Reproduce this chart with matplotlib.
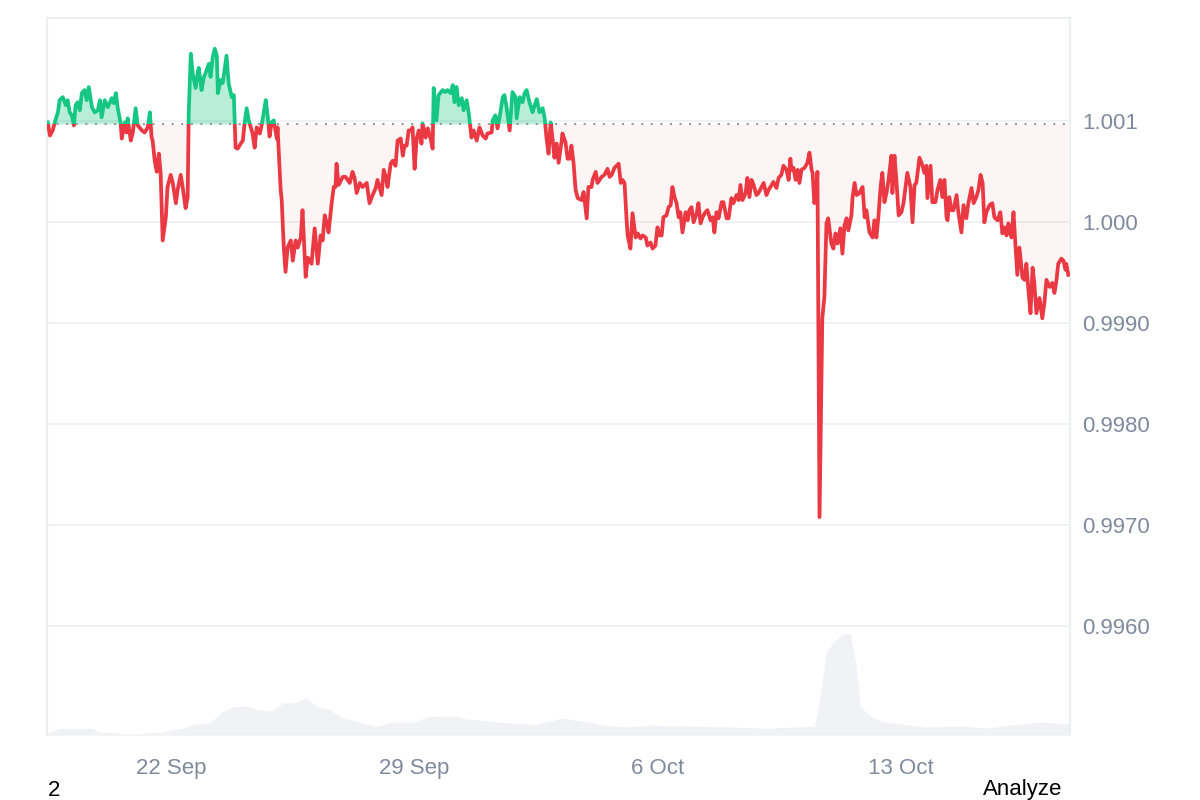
import pandas as pd
import matplotlib
matplotlib.use("Agg")
import matplotlib.pyplot as plt
import matplotlib.dates as mdates
from matplotlib.patches import Rectangle
from matplotlib.ticker import FuncFormatter

plt.rcParams["font.family"] = ["Liberation Sans", "DejaVu Sans"]

# days after 22 Sep 00:00
price_days = [
    -3.57, -3.51, -3.43, -3.37, -3.28, -3.23, -3.14, -3.05, -3.00, -2.94, -2.88, -2.82, -2.77, -2.71,
    -2.65, -2.59, -2.51, -2.45, -2.39, -2.30, -2.22, -2.13, -2.07, -2.02, -1.93, -1.84, -1.73, -1.67,
    -1.61, -1.56, -1.47, -1.44, -1.35, -1.30, -1.27, -1.18, -1.12, -1.04, -0.98, -0.86, -0.78, -0.69,
    -0.63, -0.58, -0.55, -0.49, -0.43, -0.37, -0.32, -0.26, -0.17, -0.12, -0.03, 0.03, 0.12, 0.17,
    0.26, 0.32, 0.40, 0.46, 0.49, 0.55, 0.61, 0.69, 0.75, 0.78, 0.86, 0.92, 1.01, 1.07, 1.12, 1.18,
    1.24, 1.30, 1.33, 1.41, 1.47, 1.58, 1.64, 1.73, 1.79, 1.84, 1.90, 1.99, 2.05, 2.10, 2.16, 2.22,
    2.28, 2.33, 2.39, 2.45, 2.54, 2.59, 2.65, 2.71, 2.77, 2.82, 2.88, 2.94, 3.03, 3.05, 3.14, 3.17,
    3.23, 3.28, 3.34, 3.43, 3.49, 3.57, 3.63, 3.72, 3.77, 3.86, 3.92, 4.03, 4.12, 4.21, 4.29, 4.35,
    4.41, 4.47, 4.52, 4.61, 4.67, 4.72, 4.75, 4.81, 4.93, 5.01, 5.13, 5.21, 5.27, 5.33, 5.42, 5.50,
    5.62, 5.70, 5.79, 5.88, 5.93, 6.05, 6.11, 6.17, 6.22, 6.31, 6.37, 6.45, 6.51, 6.60, 6.66, 6.71,
    6.77, 6.83, 6.91, 6.94, 7.00, 7.06, 7.12, 7.20, 7.23, 7.32, 7.38, 7.46, 7.52, 7.55, 7.63, 7.69,
    7.81, 7.89, 7.95, 8.04, 8.10, 8.15, 8.21, 8.27, 8.36, 8.41, 8.50, 8.56, 8.64, 8.70, 8.79, 8.87,
    8.96, 9.05, 9.10, 9.22, 9.25, 9.33, 9.39, 9.45, 9.54, 9.59, 9.65, 9.74, 9.80, 9.82, 9.91, 9.94,
    10.03, 10.11, 10.17, 10.23, 10.31, 10.40, 10.46, 10.52, 10.60, 10.69, 10.75, 10.80, 10.86, 10.92,
    10.98, 11.03, 11.09, 11.15, 11.24, 11.26, 11.35, 11.41, 11.47, 11.52, 11.58, 11.64, 11.70, 11.81,
    11.87, 11.96, 12.01, 12.10, 12.13, 12.22, 12.27, 12.39, 12.47, 12.56, 12.62, 12.68, 12.76, 12.88,
    12.94, 12.99, 13.05, 13.11, 13.14, 13.22, 13.28, 13.37, 13.43, 13.51, 13.57, 13.66, 13.71, 13.80,
    13.86, 13.94, 14.00, 14.06, 14.12, 14.17, 14.26, 14.32, 14.38, 14.43, 14.49, 14.55, 14.61, 14.66,
    14.72, 14.81, 14.87, 14.92, 14.98, 15.04, 15.13, 15.18, 15.24, 15.30, 15.38, 15.44, 15.53, 15.59,
    15.64, 15.70, 15.76, 15.85, 15.90, 15.99, 16.05, 16.13, 16.19, 16.28, 16.34, 16.39, 16.45, 16.54,
    16.59, 16.65, 16.71, 16.77, 16.85, 16.91, 17.00, 17.06, 17.14, 17.20, 17.29, 17.34, 17.43, 17.49,
    17.57, 17.63, 17.72, 17.78, 17.83, 17.86, 17.92, 17.98, 18.04, 18.09, 18.15, 18.24, 18.32, 18.38,
    18.44, 18.47, 18.52, 18.58, 18.61, 18.67, 18.75, 18.81, 18.87, 18.92, 19.01, 19.07, 19.13, 19.19,
    19.27, 19.33, 19.39, 19.45, 19.50, 19.59, 19.62, 19.68, 19.74, 19.82, 19.91, 19.97, 20.02, 20.11,
    20.20, 20.25, 20.31, 20.37, 20.43, 20.48, 20.54, 20.60, 20.66, 20.74, 20.77, 20.83, 20.89, 20.95,
    21.03, 21.09, 21.15, 21.20, 21.29, 21.35, 21.41, 21.46, 21.55, 21.64, 21.69, 21.75, 21.78, 21.87,
    21.92, 22.01, 22.07, 22.15, 22.21, 22.27, 22.33, 22.36, 22.41, 22.47, 22.53, 22.62, 22.67, 22.76,
    22.82, 22.90, 22.96, 23.05, 23.11, 23.19, 23.25, 23.31, 23.37, 23.42, 23.48, 23.57, 23.65, 23.71,
    23.80, 23.88, 23.94, 24.00, 24.06, 24.11, 24.20, 24.26, 24.32, 24.37, 24.43, 24.52, 24.58, 24.63,
    24.69, 24.75, 24.81, 24.86, 24.92, 25.01, 25.09, 25.15, 25.21, 25.30, 25.38, 25.44, 25.50, 25.55,
    25.64, 25.70, 25.76, 25.78, 25.84,
]
prices = [
    1.00099, 1.00086, 1.00091, 1.00099, 1.00109, 1.00121, 1.00124, 1.00116, 1.00121, 1.00109, 1.00106, 1.00096, 1.00116, 1.00119,
    1.00111, 1.00128, 1.00131, 1.00121, 1.00134, 1.00114, 1.00109, 1.00111, 1.00121, 1.00104, 1.00121, 1.00114, 1.00123, 1.00118,
    1.00128, 1.00114, 1.00098, 1.00083, 1.00099, 1.00089, 1.00103, 1.00081, 1.00089, 1.00113, 1.00096, 1.00091, 1.00089, 1.00094,
    1.00109, 1.00084, 1.00081, 1.00061, 1.00050, 1.00068, 1.00049, 0.99982, 1.00005, 1.00035, 1.00047, 1.00039, 1.00019, 1.00032,
    1.00047, 1.00034, 1.00014, 1.00025, 1.00108, 1.00167, 1.00146, 1.00133, 1.00149, 1.00153, 1.00131, 1.00143, 1.00151, 1.00157, 1.00144, 1.00163,
    1.00172, 1.00165, 1.00128, 1.00141, 1.00138, 1.00165, 1.00138, 1.00124, 1.00126, 1.00074, 1.00073, 1.00078, 1.00081, 1.00098, 1.00113, 1.00101,
    1.00094, 1.00088, 1.00074, 1.00094, 1.00088, 1.00096, 1.00108, 1.00121, 1.00104, 1.00085, 1.00099, 1.00101, 1.00083, 1.00094, 1.00032, 1.00022,
    0.99975, 0.99951, 0.99975, 0.99982, 0.99962, 0.99982, 0.99975, 0.99985, 1.00012, 0.99946, 0.99965, 0.99959, 0.99994, 0.99959, 0.99987, 0.99982,
    1.00007, 0.99999, 0.99990, 1.00019, 1.00035, 1.00035, 1.00058, 1.00037, 1.00045, 1.00045, 1.00039, 1.00050, 1.00044, 1.00029, 1.00039, 1.00035,
    1.00039, 1.00019, 1.00027, 1.00034, 1.00042, 1.00027, 1.00052, 1.00045, 1.00035, 1.00058, 1.00061, 1.00056, 1.00081, 1.00083, 1.00066, 1.00076,
    1.00076, 1.00091, 1.00091, 1.00094, 1.00053, 1.00083, 1.00091, 1.00078, 1.00098, 1.00084, 1.00093, 1.00083, 1.00073, 1.00133, 1.00101, 1.00126,
    1.00131, 1.00129, 1.00131, 1.00128, 1.00136, 1.00119, 1.00134, 1.00116, 1.00123, 1.00111, 1.00121, 1.00108, 1.00084, 1.00091, 1.00081, 1.00094,
    1.00086, 1.00083, 1.00088, 1.00089, 1.00101, 1.00106, 1.00093, 1.00104, 1.00124, 1.00126, 1.00114, 1.00091, 1.00119, 1.00129, 1.00124, 1.00103,
    1.00124, 1.00119, 1.00128, 1.00131, 1.00119, 1.00109, 1.00116, 1.00122, 1.00109, 1.00113, 1.00103, 1.00084, 1.00068, 1.00099,
    1.00081, 1.00064, 1.00078, 1.00059, 1.00081, 1.00088, 1.00079, 1.00063, 1.00063, 1.00076, 1.00059, 1.00032, 1.00024, 1.00022,
    1.00030, 1.00004, 1.00035, 1.00035, 1.00042, 1.00050, 1.00039, 1.00045, 1.00047, 1.00053, 1.00045, 1.00047, 1.00054, 1.00058,
    1.00039, 1.00042, 1.00039, 1.00002, 0.99987, 0.99974, 1.00009, 0.99985, 0.99989, 0.99984, 0.99987, 0.99985, 0.99977, 0.99980,
    0.99974, 0.99977, 0.99995, 0.99987, 0.99987, 1.00005, 1.00007, 1.00015, 1.00017, 1.00035, 1.00025, 1.00019, 1.00005, 1.00010,
    0.99990, 1.00010, 1.00002, 1.00012, 1.00015, 1.00000, 1.00009, 1.00019, 0.99999, 1.00005, 1.00010, 1.00012, 1.00002, 1.00005,
    0.99990, 1.00010, 1.00004, 1.00020, 1.00020, 1.00004, 1.00004, 1.00024, 1.00019, 1.00027, 1.00022, 1.00037, 1.00022, 1.00029,
    1.00044, 1.00025, 1.00042, 1.00037, 1.00027, 1.00029, 1.00035, 1.00039, 1.00027, 1.00032, 1.00037, 1.00040, 1.00034, 1.00044,
    1.00047, 1.00056, 1.00052, 1.00042, 1.00063, 1.00052, 1.00054, 1.00042, 1.00052, 1.00039, 1.00052, 1.00054, 1.00059, 1.00069,
    1.00052, 1.00049, 1.00019, 1.00029, 1.00050, 0.99708, 0.99905, 0.99926, 0.99999, 1.00004, 0.99979, 0.99974, 0.99989, 0.99979,
    0.99994, 0.99969, 0.99997, 1.00004, 0.99992, 1.00007, 1.00024, 1.00039, 1.00027, 1.00029, 1.00035, 1.00005, 1.00012, 0.99990,
    0.99985, 1.00002, 0.99985, 1.00007, 1.00035, 1.00049, 1.00020, 1.00029, 1.00042, 1.00066, 1.00029, 1.00066, 1.00039, 1.00007,
    1.00010, 1.00019, 1.00035, 1.00049, 1.00035, 1.00000, 1.00037, 1.00039, 1.00064, 1.00056, 1.00049, 1.00056, 1.00024, 1.00056,
    1.00020, 1.00020, 1.00032, 1.00042, 1.00025, 1.00042, 1.00005, 1.00002, 1.00025, 1.00012, 1.00012, 1.00027, 1.00010, 0.99990,
    1.00017, 1.00004, 1.00019, 1.00034, 1.00019, 1.00025, 1.00032, 1.00047, 1.00039, 1.00000, 1.00010, 1.00017, 1.00019, 1.00005,
    1.00002, 1.00010, 0.99989, 0.99995, 0.99987, 0.99999, 0.99985, 1.00010, 0.99975, 0.99948, 0.99975, 0.99945, 0.99943, 0.99959,
    0.99933, 0.99910, 0.99955, 0.99940, 0.99910, 0.99925, 0.99905, 0.99920, 0.99943, 0.99936, 0.99940, 0.99930, 0.99943, 0.99959,
    0.99964, 0.99962, 0.99953, 0.99959, 0.99948,
]
base_price = 1.00097

volume_days = [
    -3.60, -3.20, -2.30, -2.10, -1.44, -1.33, -0.32, 0.35, 0.66, 1.09, 1.44, 1.76, 2.10, 2.54, 2.88,
    3.20, 3.54, 3.86, 4.21, 4.52, 4.87, 5.30, 5.62, 5.96, 6.28, 6.94, 7.38, 7.72, 8.15, 8.50, 9.16,
    9.71, 10.49, 10.92, 11.24, 11.81, 12.47, 13.11, 13.77, 14.89, 16.22, 17.08, 17.98, 18.52, 18.67,
    18.87, 19.07, 19.30, 19.56, 19.73, 19.85, 20.17, 20.51, 21.29, 21.72, 22.82, 23.48, 24.37, 25.04, 25.87,
]
volume_m = [
    2, 7, 7, 3, 2, 1, 3, 7, 11, 12, 23, 28, 29, 25, 24,
    32, 32, 37, 28, 26, 18, 14, 11, 9, 13, 13, 18, 19, 19, 16, 14,
    12, 11, 14, 17, 14, 10, 8, 10, 9, 8, 7, 8, 9, 35,
    83, 92, 100, 101, 68, 28, 18, 13, 10, 8, 9, 7, 11, 13, 11,
]

y_ticks = [1.001, 1.000, 0.9990, 0.9980, 0.9970, 0.9960]
x_tick_days = [0, 7, 14, 21]

start = pd.Timestamp("2025-09-22")
t_price = mdates.date2num(start + pd.to_timedelta(price_days, unit="D"))
t_vol = mdates.date2num(start + pd.to_timedelta(volume_days, unit="D"))
t_ticks = mdates.date2num(start + pd.to_timedelta(x_tick_days, unit="D"))
xmin = mdates.date2num(start + pd.Timedelta(days=-3.60))
xmax = mdates.date2num(start + pd.Timedelta(days=25.90))
ymin, ymax = 0.99492, 1.00202

green = "#16c784"
red = "#ea3943"
grey_txt = "#808a9d"

fig = plt.figure(figsize=(12, 8), dpi=100)
pos = [0.039, 0.081, 0.853, 0.896]

# volume in the background
axv = fig.add_axes(pos)
axv.fill_between(t_vol, volume_m, 0, color="#f0f2f5", lw=0)
axv.set_xlim(xmin, xmax)
axv.set_ylim(0, max(volume_m) / 0.142)
axv.axis("off")

ax = fig.add_axes(pos)
ax.patch.set_alpha(0)
ax.set_xlim(xmin, xmax)
ax.set_ylim(ymin, ymax)

ax.fill_between(t_price, prices, base_price, where=[p >= base_price for p in prices],
                interpolate=True, color=green, alpha=0.3, lw=0)
ax.fill_between(t_price, prices, base_price, where=[p <= base_price for p in prices],
                interpolate=True, color=red, alpha=0.055, lw=0)

up, = ax.plot(t_price, prices, color=green, lw=2.7, solid_joinstyle="round", zorder=4)
dn, = ax.plot(t_price, prices, color=red, lw=2.7, solid_joinstyle="round", zorder=4)
up.set_clip_path(Rectangle((xmin, base_price), xmax - xmin, ymax - base_price, transform=ax.transData))
dn.set_clip_path(Rectangle((xmin, ymin), xmax - xmin, base_price - ymin, transform=ax.transData))

ax.axhline(base_price, color="#9a9a9a", lw=1.5, ls=(0, (1, 3.6)), zorder=3)

ax.set_yticks(y_ticks)
ax.yaxis.set_major_formatter(FuncFormatter(lambda v, p: f"{v:.3f}" if v >= 1 else f"{v:.4f}"))
ax.yaxis.tick_right()
ax.grid(axis="y", color="#eff1f4", lw=1.3)
ax.set_axisbelow(True)

ax.set_xticks(t_ticks)
ax.xaxis.set_major_formatter(mdates.DateFormatter("%-d %b"))
ax.tick_params(axis="y", length=0, pad=8.5, labelsize=16, labelcolor=grey_txt)
ax.tick_params(axis="x", length=0, pad=16.5, labelsize=16, labelcolor=grey_txt)

for side in ["left", "top", "right"]:
    ax.spines[side].set_color("#eceef1")
    ax.spines[side].set_linewidth(1.5)
ax.spines["bottom"].set_visible(False)

fig.text(0.04, 0.0125, "2", fontsize=16, color="black", va="center", ha="left")
fig.text(0.885, 0.0125, "Analyze", fontsize=16, color="black", va="center", ha="right")

fig.savefig("out.png", dpi=100)
